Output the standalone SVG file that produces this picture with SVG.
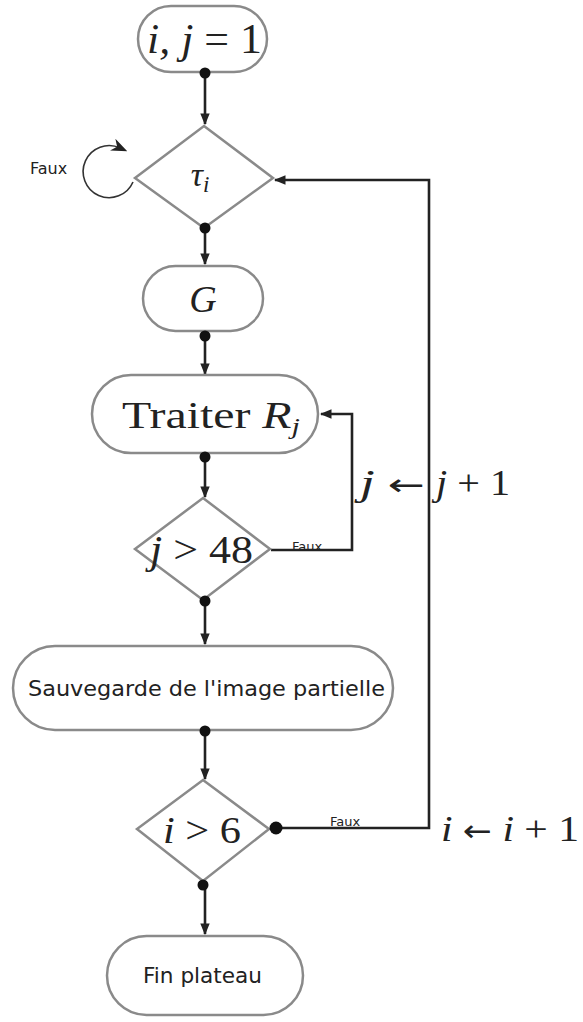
<svg xmlns="http://www.w3.org/2000/svg" width="583" height="1022" viewBox="0 0 583 1022">
<defs>
<style>
.node{fill:#fff;stroke:#8a8a8a;stroke-width:2.5}
.conn{fill:none;stroke:#222;stroke-width:2.6}
.thin{fill:none;stroke:#333;stroke-width:1.6}
.math{font-family:"Liberation Serif","DejaVu Serif",serif;font-style:italic;fill:#222}
.rm{font-family:"Liberation Serif","DejaVu Serif",serif;fill:#222}
.arrowglyph{font-family:"DejaVu Sans","Liberation Sans",sans-serif;font-style:normal}
.sans{font-family:"DejaVu Sans","Liberation Sans",sans-serif;fill:#222}
.dot{fill:#111}
</style>
<marker id="arr" viewBox="0 0 10 10" refX="9" refY="5" markerWidth="4.5" markerHeight="4.5" orient="auto">
<path d="M0,1 L10,5 L0,9 Z" fill="#222"/>
</marker>
<marker id="arrThin" viewBox="0 0 10 10" refX="5" refY="5" markerWidth="10" markerHeight="10" orient="auto">
<path d="M0,1 L10,5 L0,9 L3,5 Z" fill="#222"/>
</marker>
</defs>
<rect width="583" height="1022" fill="#fff"/>

<g id="connectors">
<line class="conn" x1="205" y1="73" x2="205" y2="124" marker-end="url(#arr)"/>
<line class="conn" x1="205" y1="228" x2="205" y2="264" marker-end="url(#arr)"/>
<line class="conn" x1="205" y1="334" x2="205" y2="374" marker-end="url(#arr)"/>
<line class="conn" x1="205" y1="456" x2="205" y2="497" marker-end="url(#arr)"/>
<line class="conn" x1="205" y1="600" x2="205" y2="644" marker-end="url(#arr)"/>
<line class="conn" x1="205" y1="731" x2="205" y2="779" marker-end="url(#arr)"/>
<line class="conn" x1="205" y1="884" x2="205" y2="934" marker-end="url(#arr)"/>
<polyline class="conn" points="271,550 352,550 352,414 321,414" marker-end="url(#arr)"/>
<polyline class="conn" points="276,828 429,828 429,180 275,180" marker-end="url(#arr)"/>
<path class="thin" d="M133,182 A26,26 0 1 1 120,148" marker-end="url(#arrThin)"/>
</g>

<g id="n_init">
<rect class="node" x="138" y="6" width="129" height="66" rx="33"/>
<text class="math" x="147" y="53" font-size="42" textLength="115" lengthAdjust="spacingAndGlyphs">i, j <tspan font-style="normal">= 1</tspan></text>
<circle class="dot" cx="205" cy="73" r="5.5"/>
</g>

<g id="n_tau">
<polygon class="node" points="204,126 273,178 204,228 135,178"/>
<text class="math" x="200" y="186" font-size="34" text-anchor="middle">τ<tspan font-size="23" dy="6">i</tspan></text>
<circle class="dot" cx="205" cy="228" r="5.5"/>
<text class="sans" x="30" y="174" font-size="16">Faux</text>
</g>

<g id="n_G">
<rect class="node" x="143" y="266" width="120" height="65" rx="32.5"/>
<text class="math" x="203" y="312" font-size="38" text-anchor="middle">G</text>
<circle class="dot" cx="205" cy="336" r="5.5"/>
</g>

<g id="n_traiter">
<rect class="node" x="92" y="375" width="226" height="78" rx="39"/>
<text class="rm" x="122" y="428" font-size="38" textLength="178" lengthAdjust="spacingAndGlyphs">Traiter <tspan class="math">R</tspan><tspan class="math" font-size="24" dy="6">j</tspan></text>
<circle class="dot" cx="205" cy="457" r="5.5"/>
</g>

<g id="n_j48">
<polygon class="node" points="203,498 270,549 203,600 135,549"/>
<text class="math" x="150" y="563" font-size="40" textLength="103" lengthAdjust="spacingAndGlyphs">j <tspan font-style="normal">&gt; 48</tspan></text>
<circle class="dot" cx="205" cy="601" r="5.5"/>
<text class="sans" x="292" y="551" font-size="13">Faux</text>
</g>

<text class="math" x="360" y="495" font-size="36" textLength="65" lengthAdjust="spacingAndGlyphs">j <tspan class="arrowglyph" font-size="30">←</tspan></text>
<text class="math" x="436" y="495" font-size="36" textLength="74" lengthAdjust="spacingAndGlyphs">j <tspan font-style="normal">+ 1</tspan></text>

<g id="n_save">
<rect class="node" x="13" y="646" width="380" height="84" rx="42"/>
<text class="sans" x="28" y="696" font-size="22" textLength="357" lengthAdjust="spacingAndGlyphs">Sauvegarde de l'image partielle</text>
<circle class="dot" cx="205" cy="731" r="5.5"/>
</g>

<g id="n_i6">
<polygon class="node" points="203,780 269,829 203,881 137,829"/>
<text class="math" x="163" y="843" font-size="38" textLength="78" lengthAdjust="spacingAndGlyphs">i <tspan font-style="normal">&gt; 6</tspan></text>
<circle class="dot" cx="276" cy="828" r="6.5"/>
<circle class="dot" cx="203" cy="885" r="5.5"/>
<text class="sans" x="330" y="826" font-size="13">Faux</text>
</g>

<text class="math" x="441" y="841" font-size="36" textLength="138" lengthAdjust="spacingAndGlyphs">i <tspan class="arrowglyph" font-size="30">←</tspan> i <tspan font-style="normal">+ 1</tspan></text>

<g id="n_fin">
<rect class="node" x="107" y="936" width="196" height="79" rx="39.5"/>
<text class="sans" x="143" y="983" font-size="21" textLength="119" lengthAdjust="spacingAndGlyphs">Fin plateau</text>
</g>
</svg>
